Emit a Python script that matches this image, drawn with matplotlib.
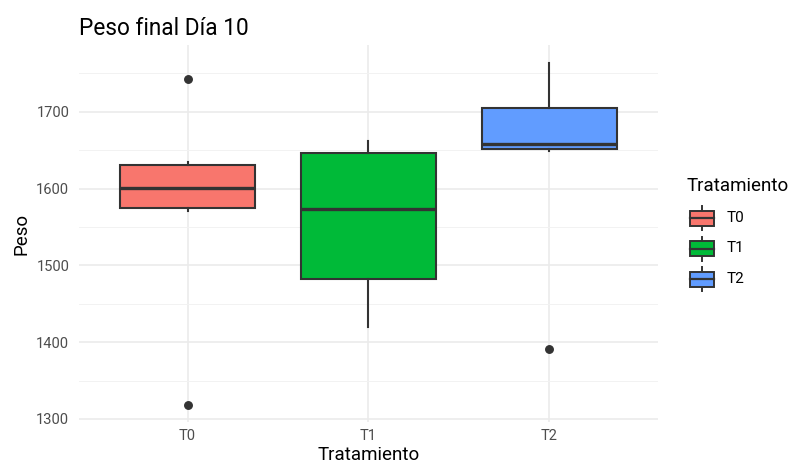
import matplotlib
matplotlib.use("Agg")
import matplotlib.pyplot as plt
from matplotlib.patches import Rectangle
from matplotlib.lines import Line2D
from matplotlib.ticker import MultipleLocator

plt.rcParams['font.family'] = ['Roboto', 'DejaVu Sans']

# ---- data ----
tratamientos = ["T0", "T1", "T2"]
q1 = [1575, 1482, 1651]
mediana = [1601, 1573, 1658.5]
q3 = [1630, 1646, 1705]
bigote_inf = [1571, 1420, 1649]
bigote_sup = [1635, 1662, 1764]
atipicos = [[1742, 1318], [], [1391]]
colores = ["#F8766D", "#00BA38", "#619CFF"]
yticks = [1300, 1400, 1500, 1600, 1700]

W, H = 788, 470
fig = plt.figure(figsize=(W / 100, H / 100), dpi=100)
fig.patch.set_facecolor("white")

ax_l, ax_r, ax_t, ax_b = 79, 658, 45, 422.3
ax = fig.add_axes([ax_l / W, 1 - ax_b / H, (ax_r - ax_l) / W, (ax_b - ax_t) / H])

stats = []
for i, t in enumerate(tratamientos):
    stats.append(dict(label=t, q1=q1[i], med=mediana[i], q3=q3[i],
                      whislo=bigote_inf[i], whishi=bigote_sup[i],
                      fliers=atipicos[i]))

edge = "#333333"
bp = ax.bxp(stats, positions=[1, 2, 3], widths=0.75, patch_artist=True,
            showcaps=False, showfliers=True,
            boxprops=dict(edgecolor=edge, linewidth=1.5),
            medianprops=dict(color=edge, linewidth=2.4, solid_capstyle='butt'),
            whiskerprops=dict(color=edge, linewidth=1.5),
            flierprops=dict(marker='o', markersize=5.4, markerfacecolor=edge,
                            markeredgecolor=edge, linestyle='none'),
            zorder=3)
for patch, c in zip(bp['boxes'], colores):
    patch.set_facecolor(c)

ax.set_xlim(0.4, 3.6)
ax.set_ylim(1295.7, 1786.8)
ax.set_yticks(yticks)
ax.yaxis.set_minor_locator(MultipleLocator(50))
ax.set_xticks([1, 2, 3])
ax.set_xticklabels(tratamientos)

for s in ax.spines.values():
    s.set_visible(False)
ax.set_facecolor("white")
ax.set_axisbelow(True)
ax.grid(True, which='major', color="#EBEBEB", linewidth=1.2)
ax.grid(True, which='minor', axis='y', color="#F2F2F2", linewidth=0.7)
ax.tick_params(axis='both', which='both', length=0, colors="#4D4D4D", labelsize=10.5)
ax.tick_params(axis='y', pad=7)
ax.tick_params(axis='x', pad=4.8)

ax.set_xlabel("Tratamiento", fontsize=13.5, color="black", labelpad=2.4)
ax.set_ylabel("Peso", fontsize=13.5, color="black")
ax.set_title("Peso final Día 10", loc='left', fontsize=16.3, color="black", pad=7)

# ---- legend ----
def fx(x):
    return x / W

def fy(y):
    return 1 - y / H

fig.text(fx(687), fy(190.7), "Tratamiento", fontsize=13.5, color="black",
         ha='left', va='baseline')
key_l, key_w, key_h = 690, 24, 15
for i, (t, c) in enumerate(zip(tratamientos, colores)):
    cy = 218 + i * 30.5
    xm = fx(key_l + key_w / 2)
    fig.add_artist(Line2D([xm, xm], [fy(cy - 12), fy(cy - key_h / 2)],
                          transform=fig.transFigure, color=edge, linewidth=1.4))
    fig.add_artist(Line2D([xm, xm], [fy(cy + key_h / 2), fy(cy + 12)],
                          transform=fig.transFigure, color=edge, linewidth=1.4))
    fig.add_artist(Rectangle((fx(key_l), fy(cy + key_h / 2)), key_w / W, key_h / H,
                             transform=fig.transFigure, facecolor=c,
                             edgecolor=edge, linewidth=1.4, zorder=3))
    fig.add_artist(Line2D([fx(key_l), fx(key_l + key_w)], [fy(cy)] * 2,
                          transform=fig.transFigure, color=edge, linewidth=1.6,
                          zorder=4))
    fig.text(fx(727), fy(cy), t, fontsize=11, color="black", ha='left', va='center')

fig.savefig("out.png", dpi=100)
